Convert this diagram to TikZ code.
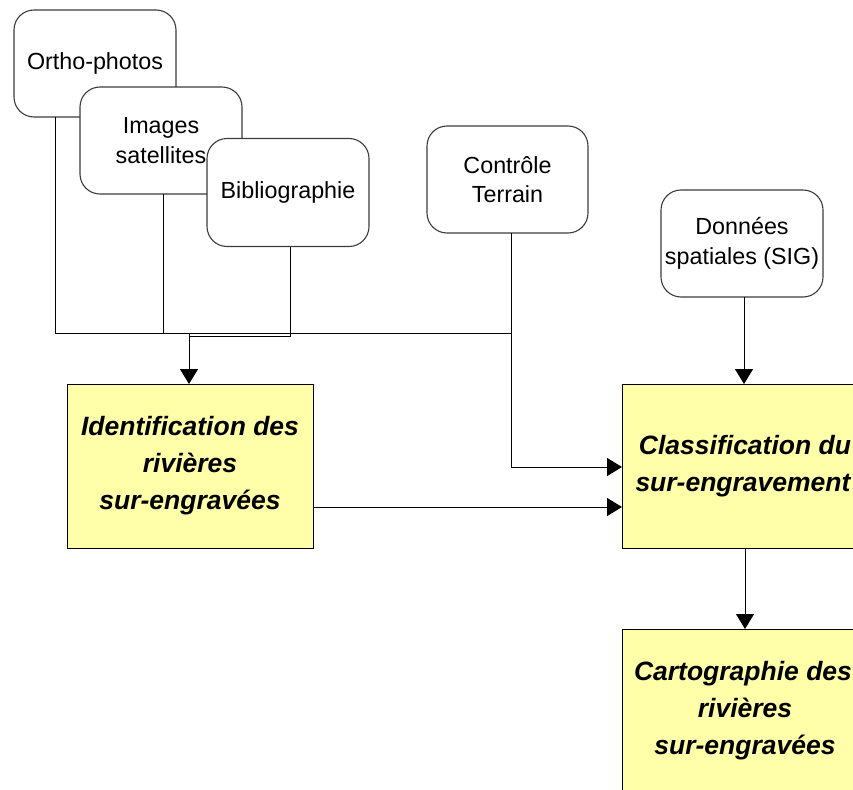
\documentclass[tikz,border=0pt]{standalone}
\usepackage{fontspec}
\setmainfont{Liberation Sans}
\usetikzlibrary{arrows.meta}
\definecolor{boxyellow}{RGB}{255,255,170}
\definecolor{roundborder}{RGB}{60,60,60}
\tikzset{
  srcbox/.style={draw=roundborder, line width=1.1pt, fill=white, rounded corners=20pt,
    minimum width=162pt, minimum height=107pt, inner sep=0pt, outer sep=0pt,
    align=center, font=\fontsize{23.3}{29.5}\selectfont},
  procbox/.style={draw=black, line width=1pt, fill=boxyellow,
    minimum width=246pt, minimum height=164pt, inner sep=0pt, outer sep=0pt,
    align=center, font=\fontsize{26.5}{37}\selectfont\bfseries\itshape},
  conn/.style={draw=black, line width=1pt},
  arr/.style={conn, -{Triangle[length=15pt,width=18pt]}}
}
\begin{document}
\begin{tikzpicture}[x=1pt,y=-1pt]
\useasboundingbox (0,0) rectangle (853,789);
\clip (0,0) rectangle (853,789);
\fill[white] (0,0) rectangle (853,789);

\node[srcbox] (ortho) at (95,63.5) {Ortho-photos};
\node[srcbox] (img) at (161,140.5) {Images\\satellites};
\node[srcbox, minimum height=108pt] (bib) at (288,192.5) {Bibliographie};
\node[srcbox, minimum width=161pt] (ctrl) at (507.5,179.5) {Contrôle\\Terrain};
\node[srcbox] (sig) at (742,243.5) {Données\\spatiales (SIG)};

\node[procbox] (ident) at (190,466) {Identification des\\rivières\\sur-engravées};
\node[procbox] (classif) at (745,466) {Classification du\\sur-engravement\hspace*{4pt}};
\node[procbox] (carto) at (745,711) {Cartographie des\hspace*{4pt}\\rivières\\sur-engravées};

\coordinate (bus) at (189,333);

\draw[conn] ([xshift=-40pt]ortho.south) |- (bus);
\draw[conn] ([xshift=2pt]img.south) |- (bus);
\draw[conn] ([xshift=2pt]bib.south) |- ([yshift=-3pt]bus);
\draw[conn] ([xshift=3.5pt]ctrl.south) |- (bus);
\draw[arr] (bus) -- (bus |- ident.north);
\draw[arr] ([xshift=3.5pt]ctrl.south) |- ([yshift=-1pt]classif.west);
\draw[arr] ([yshift=-41pt]ident.east) -- ([yshift=-41pt]classif.west);
\draw[arr] ([xshift=2pt]sig.south) -- ([xshift=2pt]sig.south |- classif.north);
\draw[arr] (classif.south) -- (carto.north);
\end{tikzpicture}
\end{document}
